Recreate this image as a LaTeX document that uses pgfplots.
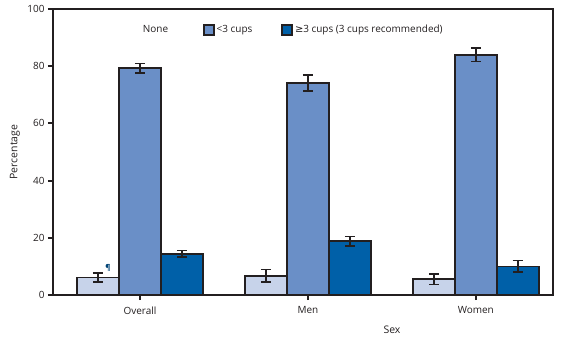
\documentclass[border=0pt]{standalone}
\usepackage{pgfplots}
\pgfplotsset{compat=1.18}
\usepackage{fontspec}
\setmainfont{Open Sans}
\newfontfamily\symfont{DejaVu Sans}
\definecolor{cnone}{HTML}{C7D3EA}
\definecolor{cless}{HTML}{6A8FC7}
\definecolor{cmore}{HTML}{0060A8}
\definecolor{edge}{HTML}{231F20}
\begin{document}
\begin{tikzpicture}[x=1bp,y=1bp]
\useasboundingbox (-53bp,-51bp) rectangle (510bp,295bp);
\begin{axis}[
  at={(0,0)}, anchor=south west,
  scale only axis, width=500bp, height=286bp,
  xmin=-0.518, xmax=2.46, ymin=0, ymax=100,
  xtick={0,1,2}, xticklabels={Overall,Men,Women},
  ytick={0,20,40,60,80,100},
  tick align=outside, xtick pos=bottom, ytick pos=left,
  major tick length=5bp,
  tick style={edge, line width=1.8bp},
  axis line style={edge, line width=2bp},
  /pgf/number format/assume math mode=true,
  tick label style={font=\fontsize{10}{12}\selectfont, text=edge},
  ylabel={Percentage}, xlabel={Sex},
  label style={font=\fontsize{10.5}{12}\selectfont, text=edge},
  ylabel style={at={(axis description cs:-0.076,0.5)}, anchor=center},
  xlabel style={at={(axis description cs:0.678,0)}, anchor=north, yshift=-27bp},
  xticklabel style={yshift=-3bp},
  ybar, bar width=0.25,
  legend style={draw=none, fill=none, at={(0.468,0.927)}, anchor=center,
    legend columns=3, font=\fontsize{10}{12}\selectfont, text=edge,
    /tikz/column 2/.style={column sep=33bp},
    /tikz/column 4/.style={column sep=27bp}},
  legend image code/.code={\draw[#1, line width=1.6bp] (0bp,-5bp) rectangle (10bp,5bp);},
  error bars/y dir=both, error bars/y explicit,
  error bars/error bar style={edge, line width=1.6bp},
  error bars/error mark options={rotate=90, mark size=5bp, line width=1.6bp, edge},
]
\addplot[fill=cnone, draw=edge, line width=1.8bp, bar shift=-0.25, forget plot] coordinates {
  (0,6.1) +- (0,1.6)
  (1,6.7) +- (0,2.2)
  (2,5.5) +- (0,1.8)
};
\addplot[fill=cless, draw=edge, line width=1.8bp, bar shift=0, forget plot] coordinates {
  (0,79.3) +- (0,1.6)
  (1,74.2) +- (0,2.8)
  (2,84.0) +- (0,2.4)
};
\addplot[fill=cmore, draw=edge, line width=1.8bp, bar shift=0.25, forget plot] coordinates {
  (0,14.4) +- (0,1.1)
  (1,18.8) +- (0,1.6)
  (2,10.0) +- (0,2.0)
};
\addlegendimage{draw=white, fill=white}
\addlegendentry{None}
\addlegendimage{fill=cless, draw=edge}
\addlegendentry{<3 cups}
\addlegendimage{fill=cmore, draw=edge}
\addlegendentry{{\symfont ≥}3 cups (3 cups recommended)}
\node[font=\fontsize{8}{9}\selectfont\bfseries, text=cmore!70!black] at (axis cs:-0.19,9.3) {¶};
\end{axis}
\end{tikzpicture}
\end{document}
